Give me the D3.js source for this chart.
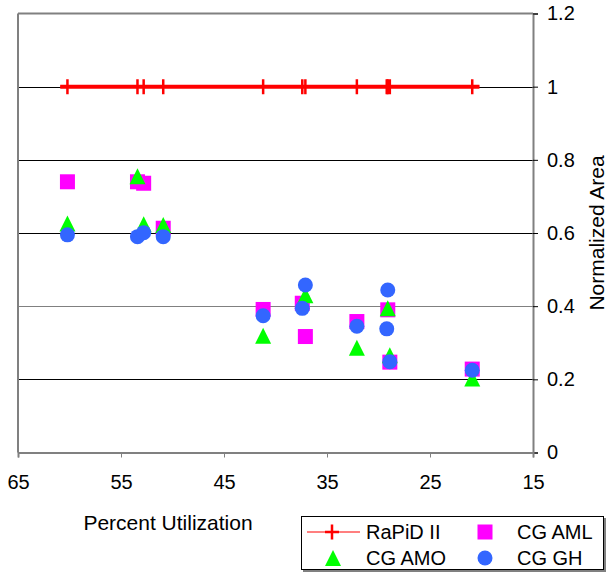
<!DOCTYPE html>
<html>
<head>
<meta charset="utf-8">
<script src="https://cdn.jsdelivr.net/npm/d3@7"></script>
<style>
  body { margin: 0; background: #fff; }
  svg text { font-family: "Liberation Sans", Arial, sans-serif; fill: #000; }
</style>
</head>
<body>
<svg id="chart"></svg>
<script>
// data
const utilization = [60.2, 53.4, 52.8, 50.9, 41.2, 37.4, 37.1, 32.1, 29.2, 29.1, 28.9, 20.9];
const rapid = [1, 1, 1, 1, 1, 1, 1, 1, 1, 1, 1, 1];
const cgAML = [0.74, 0.74, 0.736, 0.613, 0.391, 0.408, 0.317, 0.358, null, 0.39, 0.247, 0.228];
const cgAMO = [0.626, 0.755, 0.624, 0.622, 0.319, null, 0.43, 0.286, null, 0.394, 0.266, 0.202];
const cgGH = [0.595, 0.59, 0.601, 0.59, 0.374, 0.394, 0.458, 0.345, 0.338, 0.444, 0.248, 0.225];
const xTicks = [65, 55, 45, 35, 25, 15];
const yTicks = [0, 0.2, 0.4, 0.6, 0.8, 1, 1.2];

function getConfig() {
  let width = 609;
  let height = 572;
  let margin = { top: 13.5, bottom: 119.5, left: 18, right: 76 };
  let bodyWidth = width - margin.left - margin.right;
  let bodyHeight = height - margin.top - margin.bottom;
  let container = d3.select("#chart")
    .attr("width", width)
    .attr("height", height);
  return { width, height, margin, bodyWidth, bodyHeight, container };
}

function getScales(config) {
  let { margin, bodyWidth, bodyHeight } = config;
  let xScale = d3.scaleLinear()
    .domain([65, 15])
    .range([margin.left, margin.left + bodyWidth]);
  let yScale = d3.scaleLinear()
    .domain([0, 1.2])
    .range([margin.top + bodyHeight, margin.top]);
  return { xScale, yScale };
}

function drawAxes(scales, config) {
  let { container, margin, bodyWidth, bodyHeight } = config;
  let { xScale, yScale } = scales;
  let right = margin.left + bodyWidth;
  let bottom = margin.top + bodyHeight;

  // gridlines
  container.append("g")
    .selectAll("line")
    .data(yTicks.filter(d => d > 0 && d < 1.2))
    .enter()
    .append("line")
      .attr("x1", margin.left)
      .attr("x2", right)
      .attr("y1", d => Math.round(yScale(d)) + 0.5)
      .attr("y2", d => Math.round(yScale(d)) + 0.5)
      .style("stroke", d => d === 0.4 ? "#808080" : "#000")
      .style("stroke-width", 1);

  // frame: left and top gray
  container.append("line")
    .attr("x1", margin.left).attr("x2", margin.left)
    .attr("y1", margin.top).attr("y2", bottom)
    .style("stroke", "#808080").style("stroke-width", 2);
  container.append("line")
    .attr("x1", margin.left).attr("x2", right)
    .attr("y1", margin.top).attr("y2", margin.top)
    .style("stroke", "#808080").style("stroke-width", 2);

  // right value axis
  let yAxis = container.append("g")
    .attr("transform", `translate(${right},0)`)
    .call(d3.axisRight(yScale).tickValues(yTicks).tickSize(5).tickPadding(9)
      .tickFormat(d => d3.format("~g")(d)));
  yAxis.select(".domain").style("stroke", "#808080").style("stroke-width", 2);
  yAxis.selectAll(".tick line").style("stroke", "#000");
  yAxis.selectAll(".tick text").style("font-size", "20px");

  // bottom axis
  let xAxis = container.append("g")
    .attr("transform", `translate(0,${bottom})`)
    .call(d3.axisBottom(xScale).tickValues(xTicks).tickSize(5).tickPadding(17));
  xAxis.select(".domain").style("stroke", "#808080").style("stroke-width", 2);
  xAxis.selectAll(".tick line").style("stroke", "#808080");
  xAxis.selectAll(".tick text").style("font-size", "20px");

  container.append("text")
    .attr("x", 168)
    .attr("y", 530)
    .attr("text-anchor", "middle")
    .style("font-size", "21px")
    .text("Percent Utilization");

  container.append("text")
    .attr("transform", "translate(603.5,233) rotate(-90)")
    .attr("text-anchor", "middle")
    .style("font-size", "21px")
    .text("Normalized Area");
}

function trianglePath(s) {
  let h = s / 2;
  return `M0,${-h}L${h},${h}L${-h},${h}Z`;
}

function plusPath(w, h) {
  return `M${-w},0H${w}M0,${-h}V${h}`;
}

function drawSeries(scales, config) {
  let { container } = config;
  let { xScale, yScale } = scales;

  // RaPiD II line + plus markers
  let rapidPts = utilization.map((u, i) => ({ x: u, y: rapid[i] }));
  let line = d3.line().x(d => xScale(d.x)).y(d => yScale(d.y));
  let ext = d3.extent(rapidPts, d => d.x);
  container.append("path")
    .datum([{ x: ext[1] + 0.7, y: 1 }, { x: ext[0] - 0.7, y: 1 }])
    .attr("d", line)
    .style("stroke", "#FF0000")
    .style("stroke-width", 4)
    .style("fill", "none");
  container.append("g")
    .selectAll("path")
    .data(rapidPts)
    .enter()
    .append("path")
      .attr("transform", d => `translate(${xScale(d.x)},${yScale(d.y)})`)
      .attr("d", plusPath(7, 7.5))
      .style("stroke", "#FF0000")
      .style("stroke-width", 2.5)
      .style("fill", "none");

  const toPts = arr => utilization
    .map((u, i) => ({ x: u, y: arr[i] }))
    .filter(d => d.y !== null);

  // CG AML squares
  container.append("g")
    .selectAll("rect")
    .data(toPts(cgAML))
    .enter()
    .append("rect")
      .attr("x", d => xScale(d.x) - 7.5)
      .attr("y", d => yScale(d.y) - 7.5)
      .attr("width", 15)
      .attr("height", 15)
      .style("fill", "#FF00FF");

  // CG AMO triangles
  container.append("g")
    .selectAll("path")
    .data(toPts(cgAMO))
    .enter()
    .append("path")
      .attr("transform", d => `translate(${xScale(d.x)},${yScale(d.y)})`)
      .attr("d", trianglePath(16))
      .style("fill", "#00FF00");

  // CG GH circles
  container.append("g")
    .selectAll("circle")
    .data(toPts(cgGH))
    .enter()
    .append("circle")
      .attr("cx", d => xScale(d.x))
      .attr("cy", d => yScale(d.y))
      .attr("r", 7.5)
      .style("fill", "#3366FF");
}

function drawLegend(config) {
  let { container } = config;
  let lg = container.append("g");
  lg.append("rect")
    .attr("x", 303).attr("y", 518)
    .attr("width", 303).attr("height", 54)
    .style("fill", "#808080");
  lg.append("rect")
    .attr("x", 301.5).attr("y", 516.5)
    .attr("width", 302).attr("height", 53)
    .style("fill", "#fff")
    .style("stroke", "#000")
    .style("stroke-width", 1);

  let row1 = 532, row2 = 558;
  lg.append("line")
    .attr("x1", 307).attr("x2", 360)
    .attr("y1", row1).attr("y2", row1)
    .style("stroke", "#FF0000").style("stroke-width", 1.2);
  lg.append("path")
    .attr("transform", `translate(332,${row1})`)
    .attr("d", plusPath(7, 7.5))
    .style("stroke", "#FF0000").style("stroke-width", 2.5);
  lg.append("rect")
    .attr("x", 485 - 7.5).attr("y", row1 - 7.5)
    .attr("width", 15).attr("height", 15)
    .style("fill", "#FF00FF");
  lg.append("path")
    .attr("transform", `translate(333,${row2})`)
    .attr("d", trianglePath(16))
    .style("fill", "#00FF00");
  lg.append("circle")
    .attr("cx", 485).attr("cy", row2).attr("r", 7.5)
    .style("fill", "#3366FF");

  let labels = [
    { t: "RaPiD II", x: 366, y: row1 },
    { t: "CG AML", x: 517, y: row1 },
    { t: "CG AMO", x: 366, y: row2 },
    { t: "CG GH", x: 517, y: row2 }
  ];
  lg.selectAll("text.lbl")
    .data(labels)
    .enter()
    .append("text")
      .attr("class", "lbl")
      .attr("x", d => d.x)
      .attr("y", d => d.y)
      .attr("dy", "0.35em")
      .style("font-size", "20px")
      .text(d => d.t);
}

function drawChart() {
  let config = getConfig();
  let scales = getScales(config);
  drawAxes(scales, config);
  drawSeries(scales, config);
  drawLegend(config);
}

drawChart();
</script>
</body>
</html>
